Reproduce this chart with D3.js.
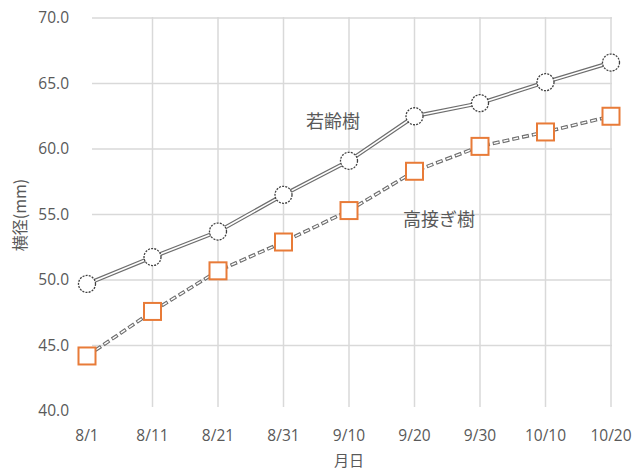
<!DOCTYPE html>
<html><head><meta charset="utf-8">
<script src="https://cdn.jsdelivr.net/npm/d3@7"></script>
<style>body{margin:0;background:#fff}svg{display:block}</style>
</head><body><svg id="c" width="638" height="470"></svg>
<script>
const categories = ["8/1","8/11","8/21","8/31","9/10","9/20","9/30","10/10","10/20"];
const youngTree = [49.7,51.75,53.7,56.5,59.1,62.5,63.5,65.1,66.6];
const graftTree = [44.2,47.6,50.7,52.9,55.3,58.3,60.2,61.3,62.5];
const yTicks = [40,45,50,55,60,65,70];
const seriesNames = ["若齢樹","高接ぎ樹"];

const svg = d3.select("#c");
const x = d3.scalePoint().domain(categories).range([87,611]);
const y = d3.scaleLinear().domain([40,70]).range([411,18]);
const grid = "#d9d9d9", txt = "#595959";
const font = "'Noto Sans CJK JP','Noto Sans',sans-serif";

// horizontal gridlines
svg.append("g").selectAll("line").data(yTicks.filter(d=>d>40)).join("line")
  .attr("x1",92).attr("x2",612).attr("y1",d=>y(d)).attr("y2",d=>y(d))
  .attr("stroke",grid).attr("stroke-width",1.5);
// vertical gridlines
svg.append("g").selectAll("line").data(categories.slice(1)).join("line")
  .attr("x1",d=>x(d)).attr("x2",d=>x(d)).attr("y1",17).attr("y2",407)
  .attr("stroke",grid).attr("stroke-width",1.5);

// y axis labels
svg.append("g").selectAll("text").data(yTicks).join("text")
  .attr("x",69).attr("y",d=>y(d)).attr("dy","0.35em").attr("text-anchor","end")
  .attr("fill",txt).style("font-family","'Open Sans',sans-serif").style("font-size","15.5px")
  .text(d=>d3.format(".1f")(d));
// x axis labels
svg.append("g").selectAll("text").data(categories).join("text")
  .attr("x",d=>x(d)).attr("y",436).attr("dy","0.35em").attr("text-anchor","middle")
  .attr("fill",txt).style("font-family","'Open Sans',sans-serif").style("font-size","15.5px")
  .text(d=>d);
// axis titles
svg.append("text").attr("x",349).attr("y",461).attr("dy","0.35em").attr("text-anchor","middle")
  .attr("fill",txt).style("font-family",font).style("font-size","15px").text("月日");
svg.append("text").attr("transform","translate(20,215) rotate(-90)").attr("dy","0.35em")
  .attr("text-anchor","middle").attr("fill",txt).style("font-family",font).style("font-size","16px")
  .text("横径(mm)");

const line = d3.line().x((d,i)=>x(categories[i])).y(d=>y(d));
// young tree: double line
svg.append("path").datum(youngTree).attr("d",line).attr("fill","none")
  .attr("stroke","#6e6e6e").attr("stroke-width",4);
svg.append("path").datum(youngTree).attr("d",line).attr("fill","none")
  .attr("stroke","#fff").attr("stroke-width",1.6);
// graft tree: dashed hollow line
svg.append("path").datum(graftTree).attr("d",line).attr("fill","none")
  .attr("stroke","#6e6e6e").attr("stroke-width",3.6).attr("stroke-dasharray","7,3");
svg.append("path").datum(graftTree).attr("d",line).attr("fill","none")
  .attr("stroke","#fff").attr("stroke-width",1.4).attr("stroke-dasharray","5,5").attr("stroke-dashoffset","-1");

// circles
svg.append("g").selectAll("circle").data(youngTree).join("circle")
  .attr("cx",(d,i)=>x(categories[i])).attr("cy",d=>y(d)).attr("r",8.5)
  .attr("fill","#fff").attr("stroke","#404040").attr("stroke-width",1.3)
  .attr("stroke-dasharray","2,1.2");
// squares
svg.append("g").selectAll("rect").data(graftTree).join("rect")
  .attr("x",(d,i)=>x(categories[i])-8.5).attr("y",d=>y(d)-8.5).attr("width",17).attr("height",17)
  .attr("fill","#fff").attr("stroke","#E87B38").attr("stroke-width",2);

// series labels
svg.append("text").attr("x",333).attr("y",122).attr("dy","0.35em").attr("text-anchor","middle")
  .attr("fill",txt).style("font-family",font).style("font-size","18px").text(seriesNames[0]);
svg.append("text").attr("x",439).attr("y",220).attr("dy","0.35em").attr("text-anchor","middle")
  .attr("fill",txt).style("font-family",font).style("font-size","18px").text(seriesNames[1]);
</script></body></html>
